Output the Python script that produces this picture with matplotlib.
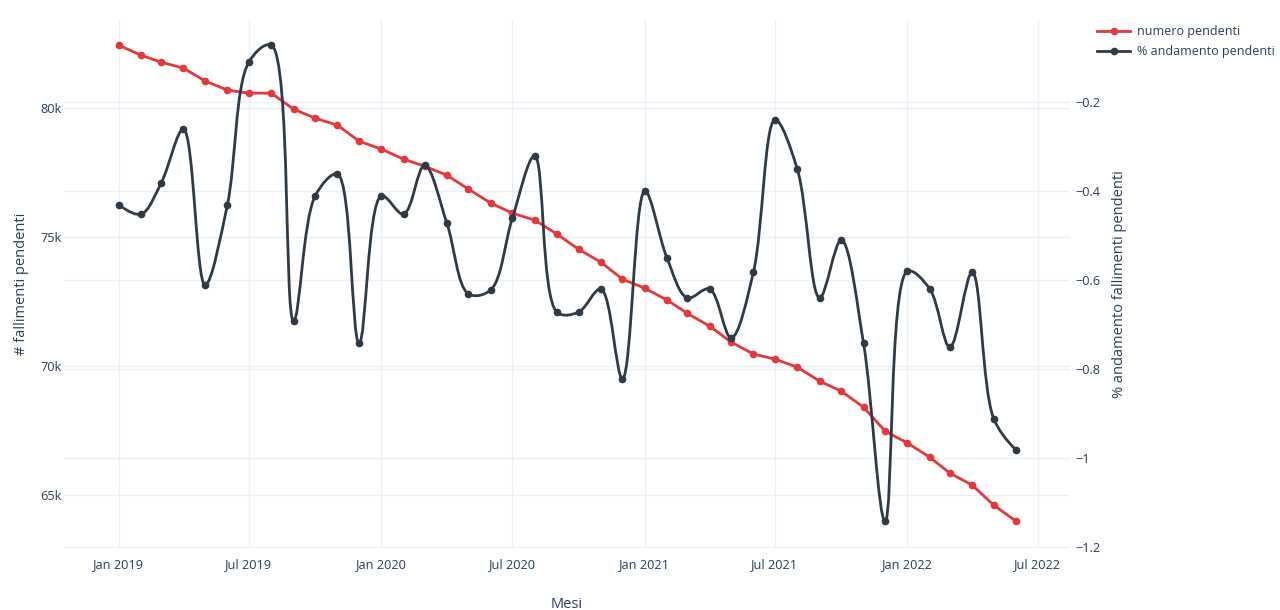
import numpy as np
import matplotlib
matplotlib.use('Agg')
import matplotlib.pyplot as plt
import matplotlib.dates as mdates
import matplotlib.transforms as mtransforms
from matplotlib.path import Path
from matplotlib.patches import PathPatch
from matplotlib.lines import Line2D
from matplotlib.ticker import FuncFormatter
import datetime as dt

plt.rcParams['font.family'] = ['Open Sans', 'DejaVu Sans']

# dati mensili Gen 2019 - Giu 2022
mesi = [dt.date(2019 + (i // 12), i % 12 + 1, 1) for i in range(42)]

numero_pendenti = [
    82440, 82050, 81780, 81550, 81050, 80700, 80580, 80580, 79960, 79610, 79340, 78720,
    78410, 78020, 77750, 77400, 76860, 76320, 75930, 75660, 75120, 74530, 74030, 73370,
    73020, 72560, 72050, 71550, 70930, 70470, 70270, 69960, 69420, 69030, 68410, 67480,
    67020, 66470, 65850, 65390, 64610, 63990,
]

andamento_pendenti = [
    -0.431, -0.452, -0.382, -0.261, -0.611, -0.431, -0.110, -0.072, -0.692, -0.411, -0.362, -0.742,
    -0.411, -0.452, -0.342, -0.472, -0.631, -0.622, -0.461, -0.321, -0.672, -0.672, -0.620, -0.822,
    -0.400, -0.551, -0.640, -0.620, -0.730, -0.582, -0.240, -0.351, -0.640, -0.510, -0.742, -1.142,
    -0.580, -0.620, -0.751, -0.582, -0.912, -0.982,
]

yticks_sx = [65000, 70000, 75000, 80000]
yticks_dx = [-1.2, -1.0, -0.8, -0.6, -0.4, -0.2]

RED = '#E5383B'
DARK = '#2E3B47'
GRID = '#EBF0F8'
TXT = '#2a3f5f'


def make_tangent(prev, cur, nxt, smooth=1.0):
    # stessa logica dello spline di plotly (Catmull-Rom centripeto)
    d1 = prev - cur
    d2 = nxt - cur
    d1a = np.hypot(*d1) ** 0.5
    d2a = np.hypot(*d2) ** 0.5
    num = (d2a * d2a * d1 - d1a * d1a * d2) * smooth
    den1 = 3 * d2a * (d1a + d2a)
    den2 = 3 * d1a * (d1a + d2a)
    return cur + num / den1, cur - num / den2


def spline_path(pts):
    n = len(pts)
    tang = [make_tangent(pts[i - 1], pts[i], pts[i + 1]) for i in range(1, n - 1)]
    verts = [pts[0], tang[0][0], pts[1]]
    codes = [Path.MOVETO, Path.CURVE3, Path.CURVE3]
    for i in range(2, n - 1):
        verts += [tang[i - 2][1], tang[i - 1][0], pts[i]]
        codes += [Path.CURVE4] * 3
    verts += [tang[n - 3][1], pts[n - 1]]
    codes += [Path.CURVE3] * 2
    return np.array(verts), codes


fig = plt.figure(figsize=(12.8, 6.1), dpi=100)
ax = fig.add_axes([0.05, 0.1016, 0.786, 0.8654])
ax2 = ax.twinx()

x = mdates.date2num(mesi)
ax.set_xlim(mdates.date2num(dt.date(2018, 10, 17)), mdates.date2num(dt.date(2022, 8, 15)))
ax.set_ylim(62950, 83410)
ax2.set_ylim(-1.202, -0.016)

# griglia di entrambi gli assi sotto le linee
ax.grid(True, color=GRID, lw=1)
ax.set_axisbelow(True)
trans_dx = mtransforms.blended_transform_factory(ax.transAxes, ax2.transData)
for v in yticks_dx:
    ax.plot([0, 1], [v, v], color=GRID, lw=1, transform=trans_dx, zorder=0.5)

ax.plot(x, numero_pendenti, color=RED, lw=2, marker='o', ms=4.5, zorder=3)

# linea smussata in spazio pixel
disp = ax2.transData.transform(np.column_stack([x, andamento_pendenti]))
verts, codes = spline_path(disp)
verts = ax2.transData.inverted().transform(verts)
ax2.add_patch(PathPatch(Path(verts, codes), facecolor='none', edgecolor=DARK, lw=2, zorder=3))
ax2.plot(x, andamento_pendenti, 'o', color=DARK, ms=4.5, zorder=4)

for a in (ax, ax2):
    for s in a.spines.values():
        s.set_visible(False)
    a.tick_params(length=0, colors=TXT, labelsize=9.2)

ax.xaxis.set_major_locator(mdates.MonthLocator(bymonth=[1, 7]))
ax.xaxis.set_major_formatter(mdates.DateFormatter('%b %Y'))
ax.tick_params(axis='x', pad=7)
ax.tick_params(axis='y', pad=2)
ax2.tick_params(axis='y', pad=4)

ax.set_yticks(yticks_sx)
ax.yaxis.set_major_formatter(FuncFormatter(lambda v, p: f'{int(v / 1000)}k'))
ax2.set_yticks(yticks_dx)
ax2.yaxis.set_major_formatter(FuncFormatter(lambda v, p: f'{v:g}'.replace('-', '\u2212')))

ax.set_xlabel('Mesi', color=TXT, fontsize=10.5, labelpad=19)
ax.set_ylabel('# fallimenti pendenti', color=TXT, fontsize=10.5, labelpad=8)
ax2.set_ylabel('% andamento fallimenti pendenti', color=TXT, fontsize=10.5, labelpad=8)

handles = [
    Line2D([], [], color=RED, lw=2, marker='o', ms=4.5),
    Line2D([], [], color=DARK, lw=2, marker='o', ms=4.5),
]
fig.legend(handles, ['numero pendenti', '% andamento pendenti'], loc='upper left',
           bbox_to_anchor=(1086 / 1280, 1 - 14 / 610), frameon=False, fontsize=9.0,
           handlelength=2.6, labelcolor=TXT, labelspacing=0.55, handletextpad=0.6)

fig.savefig('out.png', dpi=100, facecolor='white')
